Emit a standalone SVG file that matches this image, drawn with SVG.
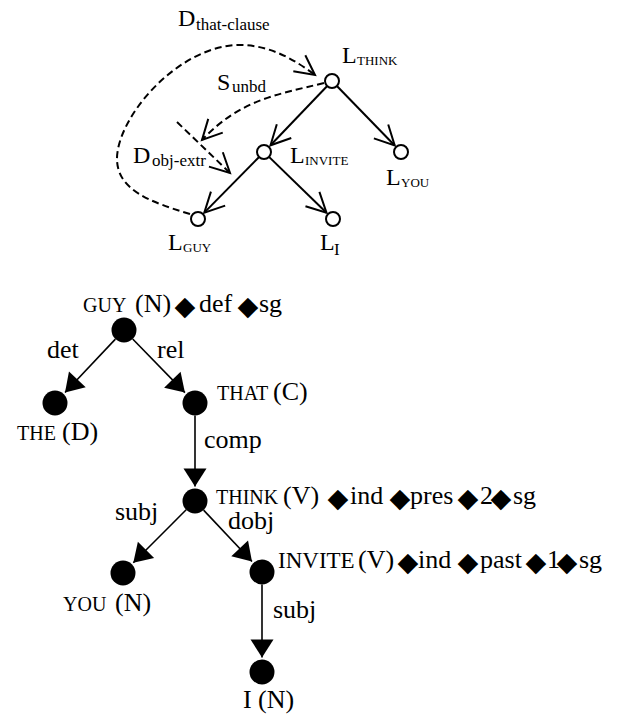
<svg xmlns="http://www.w3.org/2000/svg" width="621" height="716" viewBox="0 0 621 716">
<style>
text{font-family:"Liberation Serif","Times New Roman",serif;fill:#000}
.big{font-size:24px}
.sub{font-size:17px}
.sc{font-size:13px}
.t{font-size:26px}
.s{font-size:20px}
.dm{font-family:"DejaVu Sans",sans-serif;font-size:27px;text-anchor:middle}
.oc{fill:#fff;stroke:#000;stroke-width:2}
.fc{fill:#000}
.sl{fill:none;stroke:#000;stroke-width:2;marker-end:url(#v)}
.dl{fill:none;stroke:#000;stroke-width:2;stroke-dasharray:7,4;marker-end:url(#v)}
.tl{fill:none;stroke:#000;stroke-width:1.6;marker-end:url(#tri)}
</style>
<defs>
<marker id="v" markerUnits="userSpaceOnUse" orient="auto" refX="0" refY="0" markerWidth="30" markerHeight="30" viewBox="-25 -15 30 30" overflow="visible">
<path d="M-19.6,-10 L0,0 L-19.6,10" fill="none" stroke="#000" stroke-width="2" stroke-dasharray="none"/>
</marker>
<marker id="tri" markerUnits="userSpaceOnUse" orient="auto" refX="0" refY="0" markerWidth="30" markerHeight="30" viewBox="-25 -15 30 30" overflow="visible">
<path d="M0,0 L-18,-11.5 L-18,11.5 Z" fill="#000" stroke="none"/>
</marker>
</defs>
<g id="connectors">
<line class="sl" x1="327.2" y1="86" x2="270.5" y2="145.3"/>
<line class="sl" x1="336.9" y1="86" x2="394.7" y2="145.5"/>
<line class="sl" x1="259.1" y1="157" x2="204.3" y2="212.6"/>
<line class="sl" x1="269" y1="156.9" x2="326.5" y2="212.7"/>
<path class="dl" d="M190,214 C150,202 118,190 117,160 C116,118 178,45 240,45 C270,45 295,60 315,75"/>
<path class="dl" d="M324,83 C275,95 240,100 202,140"/>
<path class="dl" d="M177,122 L230,173"/>
<line class="tl" x1="115.4" y1="339.1" x2="65" y2="392.5"/>
<line class="tl" x1="132.7" y1="339" x2="184.9" y2="392.6"/>
<line class="tl" x1="195" y1="415.5" x2="195" y2="486.5"/>
<line class="tl" x1="186.2" y1="509.8" x2="133.3" y2="562.7"/>
<line class="tl" x1="203.6" y1="510.1" x2="252" y2="561.5"/>
<line class="tl" x1="262" y1="584.5" x2="262" y2="657.5"/>
</g>
<g id="labels-top">
<text x="178" y="26" class="big">D</text><text x="196" y="30" class="sub">that-clause</text>
<text x="217" y="90" class="big">S</text><text x="232" y="92" class="sub">unbd</text>
<text x="133" y="163" class="big">D</text><text x="152" y="166" class="sub">obj-extr</text>
</g>
<g id="L_THINK"><circle class="oc" cx="332" cy="81" r="7"/><text x="342" y="63" class="big">L</text><text x="357" y="65" class="sc">THINK</text></g>
<g id="L_INVITE"><circle class="oc" cx="264" cy="152" r="7"/><text x="290" y="163" class="big">L</text><text x="305" y="165" class="sc">INVITE</text></g>
<g id="L_YOU"><circle class="oc" cx="401" cy="152" r="7"/><text x="386" y="185" class="big">L</text><text x="401" y="187" class="sc">YOU</text></g>
<g id="L_GUY"><circle class="oc" cx="198" cy="219" r="7"/><text x="168" y="250" class="big">L</text><text x="183" y="252" class="sc">GUY</text></g>
<g id="L_I"><circle class="oc" cx="333" cy="219" r="7"/><text x="320" y="250" class="big">L</text><text x="334" y="255" class="sub">I</text></g>

<g id="GUY"><circle class="fc" cx="124" cy="330" r="12.5"/>
<text><tspan x="83" y="312" class="s">GUY</tspan><tspan x="135" y="312" class="t">(N)</tspan><tspan x="185" y="315" class="dm">◆</tspan><tspan x="199" y="312" class="t">def</tspan><tspan x="248" y="315" class="dm">◆</tspan><tspan x="259" y="312" class="t">sg</tspan></text></g>
<g id="THE"><circle class="fc" cx="55" cy="403" r="12.5"/>
<text y="440"><tspan x="17" class="s">THE</tspan><tspan x="62" class="t">(D)</tspan></text></g>
<g id="THAT"><circle class="fc" cx="195" cy="403" r="12.5"/>
<text y="400"><tspan x="217" class="s">THAT</tspan><tspan x="273" class="t">(C)</tspan></text></g>
<g id="THINK"><circle class="fc" cx="195" cy="501" r="12.5"/>
<text><tspan x="216" y="504" class="s">THINK</tspan><tspan x="283" y="504" class="t">(V)</tspan><tspan x="338" y="507" class="dm">◆</tspan><tspan x="350" y="504" class="t">ind</tspan><tspan x="400" y="507" class="dm">◆</tspan><tspan x="410" y="504" class="t">pres</tspan><tspan x="468" y="507" class="dm">◆</tspan><tspan x="480" y="504" class="t">2</tspan><tspan x="501" y="507" class="dm">◆</tspan><tspan x="513" y="504" class="t">sg</tspan></text></g>
<g id="YOU"><circle class="fc" cx="123" cy="573" r="12.5"/>
<text y="611"><tspan x="63" class="s">YOU</tspan><tspan x="115" class="t">(N)</tspan></text></g>
<g id="INVITE"><circle class="fc" cx="262" cy="572" r="12.5"/>
<text><tspan x="278" y="568" class="s" style="font-size:23px">INVITE</tspan><tspan x="358" y="568" class="t">(V)</tspan><tspan x="408" y="571" class="dm">◆</tspan><tspan x="418" y="568" class="t">ind</tspan><tspan x="468" y="571" class="dm">◆</tspan><tspan x="480" y="568" class="t">past</tspan><tspan x="536" y="571" class="dm">◆</tspan><tspan x="547" y="568" class="t">1</tspan><tspan x="567" y="571" class="dm">◆</tspan><tspan x="579" y="568" class="t">sg</tspan></text></g>
<g id="I"><circle class="fc" cx="262" cy="672" r="12.5"/>
<text y="708"><tspan x="243" class="t">I</tspan><tspan x="258" class="t">(N)</tspan></text></g>
<g id="edge-labels">
<text x="47" y="358" class="t">det</text>
<text x="157" y="358" class="t">rel</text>
<text x="204" y="448" class="t">comp</text>
<text x="115" y="520" class="t">subj</text>
<text x="228" y="529" class="t">dobj</text>
<text x="273" y="618" class="t">subj</text>
</g>
</svg>
